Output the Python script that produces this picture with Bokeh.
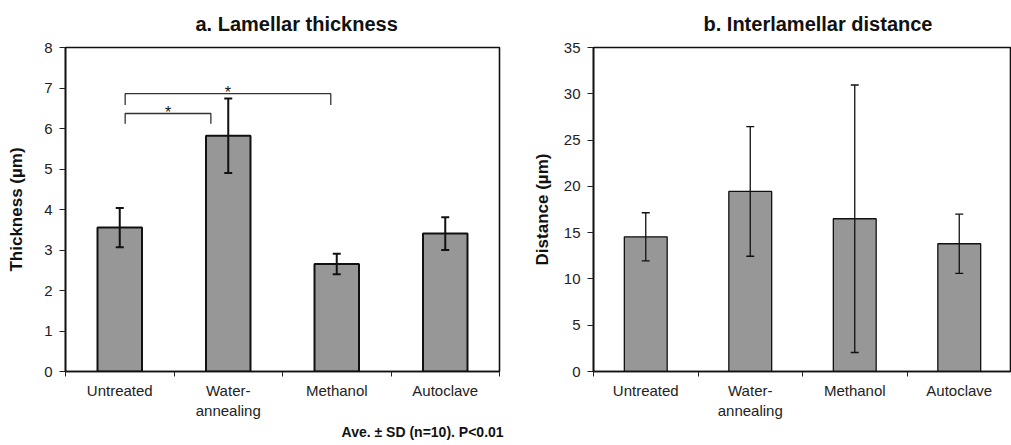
from bokeh.plotting import figure
from bokeh.models import (Range1d, FixedTicker, Whisker, TeeHead, ColumnDataSource,
                          Title)
from bokeh.layouts import row
from bokeh.embed import file_html
from bokeh.resources import INLINE
from bokeh.core.properties import value

# ---------------- data ----------------
categories = ["Untreated", "Water-\nannealing", "Methanol", "Autoclave"]
thickness_mean = [3.555, 5.82, 2.655, 3.405]
thickness_sd = [0.485, 0.92, 0.255, 0.405]
distance_mean = [14.55, 19.45, 16.5, 13.8]
distance_sd = [2.6, 7.0, 14.45, 3.2]
# significance brackets on panel a
bracket_from = [0, 0]
bracket_to = [1, 2]
bracket_level = [6.37, 6.86]
bracket_arm = [6.12, 6.58]
bracket_text = ["*", "*"]
note_text = "Ave. \u00b1  SD (n=10). P<0.01"

FONT = "Liberation Sans"
BAR = "#979797"
H = 440
TOP = 47
BOTTOM = H - 371


def make_panel(width, mb_left, mb_right, ymax, yticks, means, sds, ylabel, title,
               title_offset, ylabel_standoff, lw):
    p = figure(width=width, height=H, x_range=Range1d(0, len(categories)),
               y_range=Range1d(0, ymax), output_backend="svg", toolbar_location=None,
               min_border_left=mb_left, min_border_right=mb_right,
               min_border_top=TOP, min_border_bottom=BOTTOM)
    p.add_layout(Title(text=title, align="left", offset=title_offset, standoff=22,
                       vertical_align="top",
                       text_font=FONT, text_font_size="20px", text_font_style="bold",
                       text_color="#111111"), "above")
    centers = [i + 0.5 for i in range(len(categories))]
    lower = [m - s for m, s in zip(means, sds)]
    upper = [m + s for m, s in zip(means, sds)]
    src = ColumnDataSource(dict(x=centers, top=means, lower=lower, upper=upper))
    p.vbar(x="x", top="top", width=0.41, source=src, fill_color=BAR,
           line_color="#111111", line_width=lw)
    p.add_layout(Whisker(base="x", upper="upper", lower="lower", source=src,
                         level="overlay",
                         line_color="#111111", line_width=lw,
                         upper_head=TeeHead(size=8, line_color="#111111", line_width=lw),
                         lower_head=TeeHead(size=8, line_color="#111111", line_width=lw)))

    p.xgrid.visible = False
    p.ygrid.visible = False
    p.outline_line_color = "#111111"
    p.outline_line_width = 1.6

    xa = p.xaxis[0]
    xa.ticker = FixedTicker(ticks=centers,
                            minor_ticks=list(range(len(categories) + 1)))
    xa.major_label_overrides = {c: n for c, n in zip(centers, categories)}
    xa.major_tick_out = 0
    xa.major_tick_in = 0
    xa.minor_tick_out = 5
    xa.minor_tick_in = 0
    xa.minor_tick_line_color = "#222222"
    xa.major_label_standoff = 5
    xa.axis_line_color = "#111111"
    xa.axis_line_width = 1.6
    xa.major_label_text_font = FONT
    xa.major_label_text_font_size = "15px"
    xa.major_label_text_color = "#222222"

    ya = p.yaxis[0]
    ya.ticker = FixedTicker(ticks=yticks)
    ya.major_tick_out = 6
    ya.major_tick_in = 0
    ya.minor_tick_out = 0
    ya.minor_tick_in = 0
    ya.major_tick_line_color = "#222222"
    ya.axis_line_color = "#111111"
    ya.axis_line_width = 1.6
    ya.major_label_standoff = 7
    ya.major_label_text_font = FONT
    ya.major_label_text_font_size = "15px"
    ya.major_label_text_color = "#222222"
    ya.axis_label = ylabel
    ya.axis_label_text_font = FONT
    ya.axis_label_text_font_size = "17px"
    ya.axis_label_text_font_style = "bold"
    ya.axis_label_text_color = "#111111"
    ya.axis_label_standoff = ylabel_standoff
    return p


p1 = make_panel(508, 65, 9, 8, list(range(0, 9)), thickness_mean, thickness_sd,
                "Thickness (\u00b5m)", "a. Lamellar thickness", 130, 15, 2)
p2 = make_panel(503, 85, 0, 35, list(range(0, 36, 5)), distance_mean, distance_sd,
                "Distance (\u00b5m)", "b. Interlamellar distance", 110, 9, 1.3)

# significance brackets
bx, by, sx, sy = [], [], [], []
for f, t, lvl, arm in zip(bracket_from, bracket_to, bracket_level, bracket_arm):
    x0 = f + 0.55
    x1 = t + 0.5 - (0.16 if t == 1 else 0.055)
    bx.append([x0, x0, x1, x1])
    by.append([arm, lvl, lvl, arm])
    sx.append((x0 + x1) / 2)
    sy.append(lvl)
p1.multi_line(xs=bx, ys=by, line_color="#333333", line_width=1.3)
p1.text(x=sx, y=sy, text=bracket_text, text_font=value(FONT), text_font_size="16px",
        text_align="center", text_baseline="middle", y_offset=-1,
        text_color="#111111")

# footnote under panel a
p1.add_layout(Title(text=note_text, align="right", offset=-8, standoff=0,
                    text_font=FONT, text_font_size="14px", text_font_style="bold",
                    text_color="#111111"), "below")

layout = row(p1, p2)
open("out.html", "w").write(file_html(layout, INLINE))
